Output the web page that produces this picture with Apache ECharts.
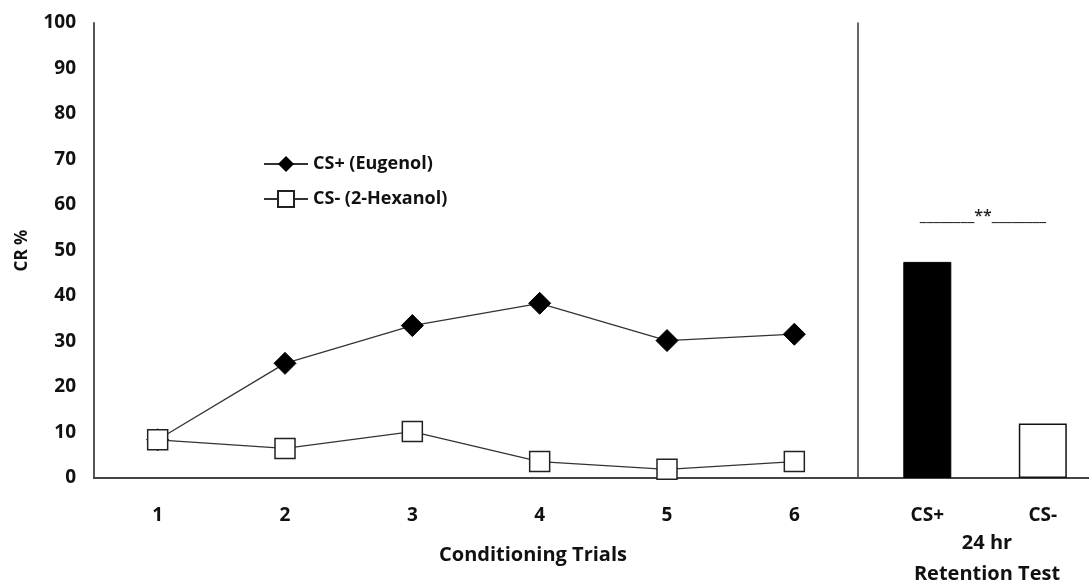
<!DOCTYPE html>
<html>
<head>
<meta charset="utf-8">
<script src="https://cdn.jsdelivr.net/npm/echarts@6/dist/echarts.min.js"></script>
<style>
  html, body { margin: 0; padding: 0; background: #fff; }
  #chart { width: 1089px; height: 586px; }
</style>
</head>
<body>
<div id="chart"></div>
<script>
// conditioning trials
const trials = ['1', '2', '3', '4', '5', '6']
const csPlus = [8.4, 25.2, 33.5, 38.4, 30.2, 31.6]
const csMinus = [8.4, 6.5, 10.2, 3.6, 1.9, 3.6]
// 24 hr retention test
const retentionLabels = ['CS+', 'CS-']
const retentionValues = [47.5, 12]

const font = '"Open Sans", "Noto Sans", sans-serif'
const labelStyle = { color: '#111', fontSize: 19, fontWeight: 'bold', fontFamily: font }

const chart = echarts.init(document.getElementById('chart'))

chart.setOption({
  animation: false,
  backgroundColor: '#fff',
  grid: [
    { left: 94, right: 231, top: 23, bottom: 108 },
    { left: 858, right: 0, top: 23, bottom: 108 }
  ],
  legend: {
    data: ['CS+ (Eugenol)', 'CS- (2-Hexanol)'],
    orient: 'vertical',
    left: 258,
    top: 150,
    itemWidth: 44,
    itemHeight: 20,
    itemGap: 17,
    textStyle: { color: '#111', fontSize: 18, fontWeight: 'bold', fontFamily: font }
  },
  xAxis: [
    {
      type: 'category',
      gridIndex: 0,
      data: trials,
      boundaryGap: true,
      axisLine: { lineStyle: { color: '#444', width: 2 } },
      axisTick: { show: false },
      axisLabel: Object.assign({ margin: 28 }, labelStyle)
    },
    {
      type: 'value',
      gridIndex: 1,
      min: 0.4,
      max: 2.4,
      axisLine: { show: true, lineStyle: { color: '#444', width: 2 } },
      axisTick: { show: false },
      splitLine: { show: false },
      axisLabel: Object.assign({
        margin: 28,
        customValues: [1, 2],
        formatter: v => retentionLabels[Math.round(v) - 1] || ''
      }, labelStyle)
    }
  ],
  yAxis: [
    {
      type: 'value',
      gridIndex: 0,
      min: 0,
      max: 100,
      interval: 10,
      name: 'CR %',
      nameLocation: 'middle',
      nameGap: 63,
      nameTextStyle: { color: '#111', fontSize: 17, fontWeight: 'bold', fontFamily: font },
      axisLine: { show: true, lineStyle: { color: '#555', width: 2 } },
      axisTick: { show: false },
      splitLine: { show: false },
      axisLabel: Object.assign({ margin: 18 }, labelStyle)
    },
    {
      type: 'value',
      gridIndex: 1,
      min: 0,
      max: 100,
      interval: 10,
      axisLine: { show: true, lineStyle: { color: '#333', width: 1.5 } },
      axisTick: { show: false },
      splitLine: { show: false },
      axisLabel: { show: false }
    }
  ],
  graphic: [
    { type: 'text', x: 533, y: 555, style: { text: 'Conditioning Trials', align: 'center', verticalAlign: 'middle', fill: '#111', font: 'bold 20px ' + font } },
    { type: 'text', x: 987, y: 543, style: { text: '24 hr', align: 'center', verticalAlign: 'middle', fill: '#111', font: 'bold 20px ' + font } },
    { type: 'text', x: 987, y: 574, style: { text: 'Retention Test', align: 'center', verticalAlign: 'middle', fill: '#111', font: 'bold 20px ' + font } },
    { type: 'text', x: 983, y: 216, style: { text: '________**________', align: 'center', verticalAlign: 'middle', fill: '#222', font: '600 16px ' + font } }
  ],
  series: [
    {
      name: 'CS+ (Eugenol)',
      type: 'line',
      xAxisIndex: 0,
      yAxisIndex: 0,
      data: csPlus,
      symbol: 'diamond',
      symbolSize: 22,
      lineStyle: { color: '#333', width: 1.3 },
      itemStyle: { color: '#000', borderColor: '#000' },
      z: 2
    },
    {
      name: 'CS- (2-Hexanol)',
      type: 'line',
      xAxisIndex: 0,
      yAxisIndex: 0,
      data: csMinus,
      symbol: 'rect',
      symbolSize: 20,
      lineStyle: { color: '#333', width: 1.3 },
      itemStyle: { color: '#fff', borderColor: '#222', borderWidth: 1.5 },
      z: 3
    },
    {
      name: 'Retention',
      type: 'bar',
      xAxisIndex: 1,
      yAxisIndex: 1,
      barWidth: 48,
      data: [
        { value: [1, retentionValues[0]], itemStyle: { color: '#000', borderColor: '#000', borderWidth: 1 } },
        { value: [2, retentionValues[1]], itemStyle: { color: '#fff', borderColor: '#111', borderWidth: 1.5 } }
      ]
    }
  ]
})
</script>
</body>
</html>
